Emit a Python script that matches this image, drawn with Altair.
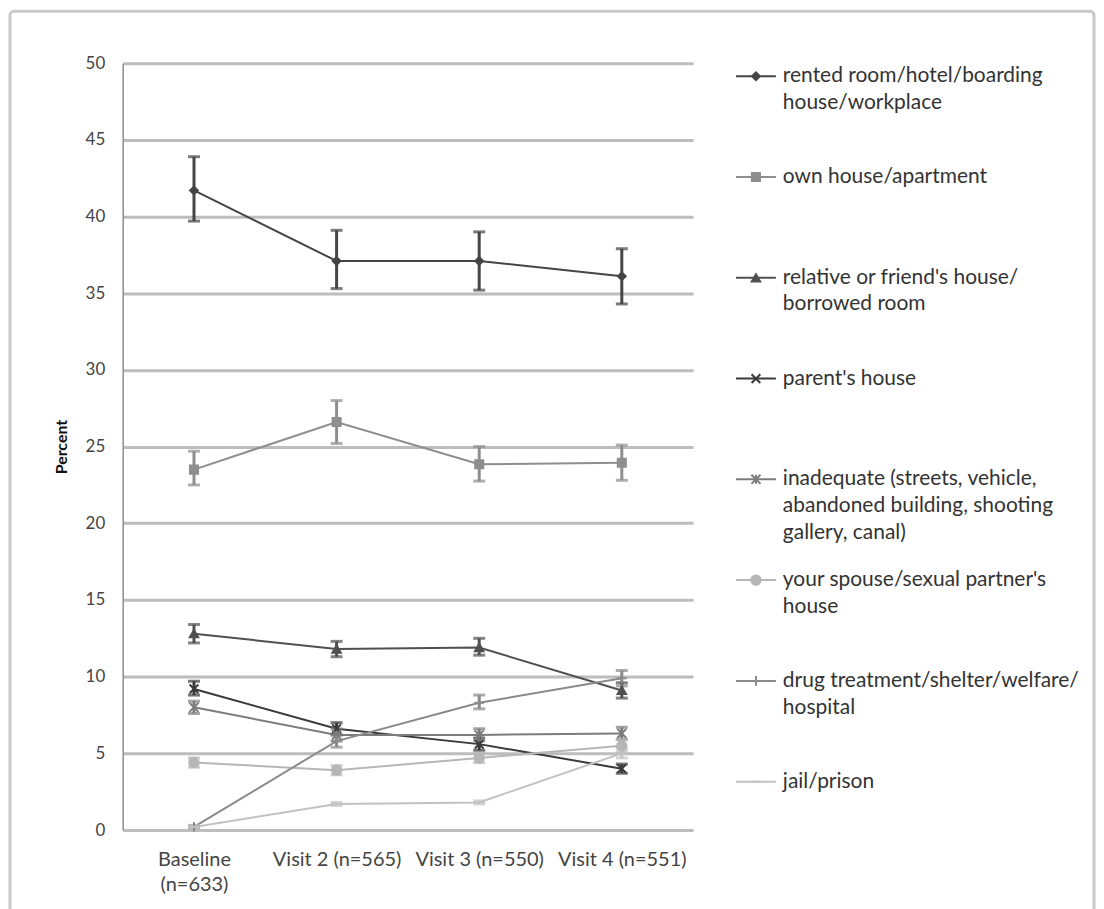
import altair as alt
import pandas as pd

# ---------------- data ----------------
visits = ["Baseline (n=633)", "Visit 2 (n=565)", "Visit 3 (n=550)", "Visit 4 (n=551)"]

series = [
    "rented room/hotel/boarding house/workplace",
    "own house/apartment",
    "relative or friend's house/ borrowed room",
    "parent's house",
    "inadequate (streets, vehicle, abandoned building, shooting gallery, canal)",
    "your spouse/sexual partner's house",
    "drug treatment/shelter/welfare/ hospital",
    "jail/prison",
]

legend_lines = [
    ["rented room/hotel/boarding", "house/workplace"],
    ["own house/apartment"],
    ["relative or friend's house/", "borrowed room"],
    ["parent's house"],
    ["inadequate (streets, vehicle,", "abandoned building, shooting", "gallery, canal)"],
    ["your spouse/sexual partner's", "house"],
    ["drug treatment/shelter/welfare/", "hospital"],
    ["jail/prison"],
]

means = [
    [41.7, 37.1, 37.1, 36.1],
    [23.5, 26.6, 23.85, 23.95],
    [12.8, 11.8, 11.9, 9.1],
    [9.2, 6.6, 5.6, 4.0],
    [8.0, 6.2, 6.2, 6.3],
    [4.4, 3.9, 4.7, 5.5],
    [0.2, 5.8, 8.3, 9.9],
    [0.2, 1.7, 1.8, 5.0],
]
lows = [
    [39.7, 35.3, 35.2, 34.3],
    [22.5, 25.2, 22.75, 22.8],
    [12.2, 11.3, 11.4, 8.6],
    [8.8, 6.2, 5.2, 3.7],
    [7.6, 5.8, 5.8, 5.9],
    [4.1, 3.6, 4.4, 5.1],
    [0.1, 5.4, 7.9, 9.4],
    [0.1, 1.6, 1.7, 4.7],
]
highs = [
    [43.9, 39.1, 39.0, 37.9],
    [24.7, 28.0, 25.0, 25.1],
    [13.4, 12.3, 12.5, 9.6],
    [9.7, 7.0, 6.0, 4.3],
    [8.4, 6.6, 6.6, 6.7],
    [4.7, 4.2, 5.0, 5.9],
    [0.3, 6.2, 8.8, 10.4],
    [0.3, 1.8, 1.9, 5.3],
]

# ---------------- styles ----------------
colors = ["#454545", "#8e8e8e", "#505050", "#3a3a3a", "#7c7c7c", "#b6b6b6", "#8a8a8a", "#c2c2c2"]
shapes = [
    "diamond",
    "square",
    "triangle-up",
    "M-1,-1L1,1M1,-1L-1,1",
    "M-1,-1L1,1M1,-1L-1,1M0,-1L0,1",
    "circle",
    "M-1,0L1,0M0,-1L0,1",
    "M-1,0L1,0",
]
sizes = [60, 100, 110, 60, 60, 130, 45, 45]

FONT = "Lato"

rows = []
for si, s in enumerate(series):
    for vi, v in enumerate(visits):
        rows.append({"series": s, "order": si, "visit": v,
                     "mean": means[si][vi], "lo": lows[si][vi], "hi": highs[si][vi]})
df = pd.DataFrame(rows)

color_scale = alt.Scale(domain=series, range=colors)
shape_scale = alt.Scale(domain=series, range=shapes)
size_scale = alt.Scale(domain=series, range=sizes)

x_axis = alt.Axis(title=None, labelAngle=0, domain=False, ticks=False, grid=False,
                  labelFont=FONT, labelFontSize=20, labelColor="#444444", labelPadding=20,
                  labelLineHeight=25,
                  labelOverlap=False, labelFlush=False, labelBound=False,
                  labelExpr="datum.value == 'Baseline (n=633)' ? ['Baseline', '(n=633)'] : datum.label")
y_axis = alt.Axis(title="Percent", values=list(range(0, 51, 5)), ticks=False,
                  domain=True, domainColor="#8c8c8c", domainWidth=1.5,
                  grid=True, gridColor="#bdbdbd", gridWidth=3,
                  labelFont=FONT, labelFontSize=17, labelColor="#444444", labelPadding=18,
                  titleFont=FONT, titleFontSize=16, titleFontWeight="bold", titleColor="#111111",
                  titlePadding=16)

x_enc = alt.X("visit:N", sort=visits, scale=alt.Scale(type="point", padding=0.5), axis=x_axis)
y_scale = alt.Scale(domain=[0, 50], nice=False)

base = alt.Chart(df)

lines = base.mark_line(strokeWidth=2).encode(
    x=x_enc,
    y=alt.Y("mean:Q", scale=y_scale, axis=y_axis),
    color=alt.Color("series:N", scale=color_scale, legend=None),
    detail="series:N",
    order="order:Q",
)

err = base.mark_rule(strokeWidth=3).encode(
    x=x_enc,
    y=alt.Y("lo:Q", scale=y_scale, axis=y_axis),
    y2="hi:Q",
    color=alt.Color("series:N", scale=color_scale, legend=None),
)
cap_lo = base.mark_tick(size=12, thickness=3, orient="horizontal").encode(
    x=x_enc,
    y=alt.Y("lo:Q", scale=y_scale, axis=y_axis),
    color=alt.Color("series:N", scale=color_scale, legend=None),
)
cap_hi = base.mark_tick(size=12, thickness=3, orient="horizontal").encode(
    x=x_enc,
    y=alt.Y("hi:Q", scale=y_scale, axis=y_axis),
    color=alt.Color("series:N", scale=color_scale, legend=None),
)

pts = base.mark_point(filled=True, opacity=1, strokeWidth=2).encode(
    x=x_enc,
    y=alt.Y("mean:Q", scale=y_scale, axis=y_axis),
    color=alt.Color("series:N", scale=color_scale, legend=None),
    stroke=alt.Stroke("series:N", scale=color_scale, legend=None),
    shape=alt.Shape("series:N", scale=shape_scale, legend=None),
    size=alt.Size("series:N", scale=size_scale, legend=None),
)

frame = alt.Chart(pd.DataFrame({"k": [0]})).mark_rect(
    filled=False, stroke="#c8c8c8", strokeWidth=3, cornerRadius=4
).encode(
    x=alt.value(-113), x2=alt.value(974), y=alt.value(-52), y2=alt.value(880)
)

main = alt.layer(frame, lines, err, cap_lo, cap_hi, pts).properties(width=572, height=769)

# ---------------- legend panel ----------------
LINE_STEP = 0.265
leg_rows = []
for si, s in enumerate(series):
    for li, txt in enumerate(legend_lines[si]):
        leg_rows.append({"series": s, "text": txt, "ypos": si + li * LINE_STEP})
leg_text_df = pd.DataFrame(leg_rows)
leg_sym_df = pd.DataFrame({"series": series, "ypos": list(range(len(series)))})

ly = alt.Scale(domain=[-0.13, 7.48], reverse=True, nice=False, zero=False)

leg_text = alt.Chart(leg_text_df).mark_text(
    align="left", baseline="middle", font=FONT, fontSize=21, color="#333333"
).encode(
    x=alt.value(47),
    y=alt.Y("ypos:Q", scale=ly, axis=None),
    text="text:N",
)
leg_line = alt.Chart(leg_sym_df).mark_rule(strokeWidth=2).encode(
    x=alt.value(0), x2=alt.value(40),
    y=alt.Y("ypos:Q", scale=ly, axis=None),
    color=alt.Color("series:N", scale=color_scale, legend=None),
)
leg_pt = alt.Chart(leg_sym_df).mark_point(filled=True, opacity=1, strokeWidth=2).encode(
    x=alt.value(20),
    y=alt.Y("ypos:Q", scale=ly, axis=None),
    color=alt.Color("series:N", scale=color_scale, legend=None),
    stroke=alt.Stroke("series:N", scale=color_scale, legend=None),
    shape=alt.Shape("series:N", scale=shape_scale, legend=None),
    size=alt.Size("series:N", scale=size_scale, legend=None),
)
legend = alt.layer(leg_line, leg_pt, leg_text).properties(width=330, height=769)

chart = alt.hconcat(main, legend, spacing=43, bounds="flush").properties(
    padding={"left": 0, "top": 0, "right": 0, "bottom": 0},
    background="white",
).configure_view(strokeWidth=0, strokeOpacity=0)

chart.save("out.html", embed_options={"renderer": "svg", "actions": False})
